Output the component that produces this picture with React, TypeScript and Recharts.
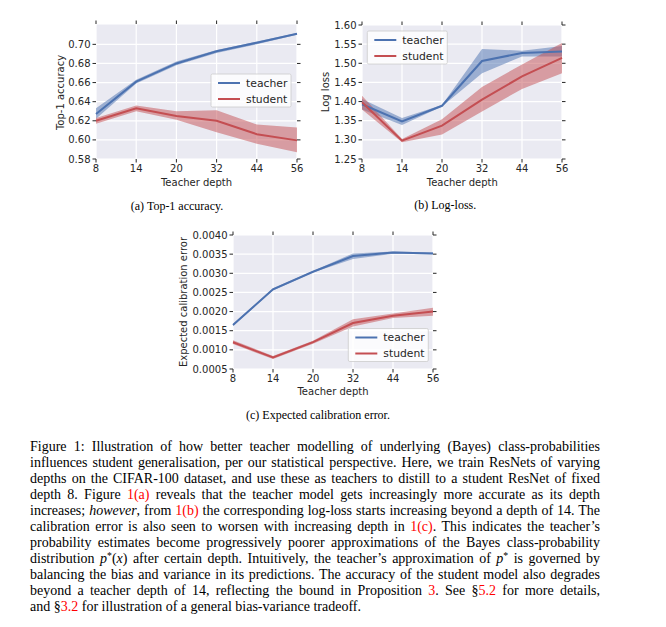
import React from 'react';
import { ComposedChart, Line, Area, XAxis, YAxis, CartesianGrid } from 'recharts';

// ---------- data ----------
const depths = ['8', '14', '20', '32', '44', '56'];

const accTeacher = [0.627, 0.661, 0.68, 0.6927, 0.7017, 0.711];
const accTeacherLo = [0.622, 0.659, 0.678, 0.691, 0.7, 0.71];
const accTeacherHi = [0.633, 0.663, 0.682, 0.694, 0.703, 0.712];
const accStudent = [0.62, 0.633, 0.625, 0.62, 0.606, 0.5995];
const accStudentLo = [0.617, 0.63, 0.621, 0.608, 0.596, 0.587];
const accStudentHi = [0.623, 0.636, 0.63, 0.631, 0.616, 0.613];

const lossTeacher = [1.393, 1.348, 1.389, 1.506, 1.527, 1.531];
const lossTeacherLo = [1.379, 1.339, 1.387, 1.474, 1.518, 1.518];
const lossTeacherHi = [1.407, 1.357, 1.391, 1.537, 1.533, 1.545];
const lossStudent = [1.398, 1.298, 1.337, 1.405, 1.466, 1.514];
const lossStudentLo = [1.379, 1.294, 1.314, 1.374, 1.433, 1.474];
const lossStudentHi = [1.415, 1.302, 1.354, 1.438, 1.497, 1.553];

const eceTeacher = [0.00165, 0.00258, 0.00304, 0.00345, 0.00354, 0.00352];
const eceTeacherLo = [0.00162, 0.00255, 0.00302, 0.00337, 0.00351, 0.0035];
const eceTeacherHi = [0.00168, 0.00261, 0.00306, 0.00352, 0.00357, 0.00354];
const eceStudent = [0.0012, 0.0008, 0.0012, 0.0017, 0.00189, 0.002];
const eceStudentLo = [0.00115, 0.00076, 0.00116, 0.00161, 0.00183, 0.00189];
const eceStudentHi = [0.00125, 0.00084, 0.00124, 0.0018, 0.00195, 0.0021];

const accTicks = [0.58, 0.6, 0.62, 0.64, 0.66, 0.68, 0.7];
const lossTicks = [1.25, 1.3, 1.35, 1.4, 1.45, 1.5, 1.55, 1.6];
const eceTicks = [0.0005, 0.001, 0.0015, 0.002, 0.0025, 0.003, 0.0035, 0.004];

const seriesNames = ['teacher', 'student'];

// ---------- style ----------
const BLUE = '#4C72B0';
const RED = '#C44E52';
const BG = '#EAEAF2';
const TXT = '#262626';
const SANS = '"DejaVu Sans", sans-serif';
const SERIF = '"Liberation Serif", serif';

function buildRows(t: number[], tLo: number[], tHi: number[], s: number[], sLo: number[], sHi: number[]) {
  return depths.map((d, i) => ({
    depth: d,
    t: t[i],
    tBand: [tLo[i], tHi[i]],
    s: s[i],
    sBand: [sLo[i], sHi[i]],
  }));
}

const accData = buildRows(accTeacher, accTeacherLo, accTeacherHi, accStudent, accStudentLo, accStudentHi);
const lossData = buildRows(lossTeacher, lossTeacherLo, lossTeacherHi, lossStudent, lossStudentLo, lossStudentHi);
const eceData = buildRows(eceTeacher, eceTeacherLo, eceTeacherHi, eceStudent, eceStudentLo, eceStudentHi);

type PanelProps = {
  data: any[];
  domain: [number, number];
  ticks: number[];
  fmt: (v: number) => string;
  width: number;
  height: number;
  top: number;
  right: number;
  yWidth: number;
};

function Panel({ data, domain, ticks, fmt, width, height, top, right, yWidth }: PanelProps) {
  const tickLine = { stroke: TXT, strokeWidth: 1 };
  return (
    <ComposedChart width={width} height={height} data={data} margin={{ top: top - 1, right: right - 1, left: 0, bottom: 0 }}>
      <CartesianGrid fill={BG} fillOpacity={1} stroke="#ffffff" strokeWidth={1.2} />
      <XAxis
        dataKey="depth"
        scale="point"
        interval={0}
        height={41}
        tickSize={3.5}
        axisLine={false}
        tickLine={tickLine}
        tick={{ fill: TXT, fontSize: 10, fontFamily: SANS }}
      />
      <XAxis
        xAxisId="top"
        orientation="top"
        dataKey="depth"
        scale="point"
        interval={0}
        height={1}
        tickSize={3.5}
        axisLine={false}
        tickLine={tickLine}
        tickFormatter={() => ''}
      />
      <YAxis
        type="number"
        domain={domain}
        ticks={ticks}
        allowDataOverflow
        interval={0}
        width={yWidth}
        tickSize={3.5}
        axisLine={false}
        tickLine={tickLine}
        tickFormatter={fmt}
        tick={{ fill: TXT, fontSize: 10, fontFamily: SANS }}
      />
      <YAxis
        yAxisId="right"
        orientation="right"
        type="number"
        domain={domain}
        ticks={ticks}
        allowDataOverflow
        interval={0}
        width={1}
        tickSize={3.5}
        axisLine={false}
        tickLine={tickLine}
        tickFormatter={() => ''}
      />
      <Area dataKey="tBand" type="linear" stroke="none" fill={BLUE} fillOpacity={0.5} isAnimationActive={false} activeDot={false} />
      <Line dataKey="t" type="linear" stroke={BLUE} strokeWidth={2} dot={false} activeDot={false} isAnimationActive={false} />
      <Area dataKey="sBand" type="linear" stroke="none" fill={RED} fillOpacity={0.5} isAnimationActive={false} activeDot={false} />
      <Line dataKey="s" type="linear" stroke={RED} strokeWidth={2} dot={false} activeDot={false} isAnimationActive={false} />
    </ComposedChart>
  );
}

function LegendBox({ x, y }: { x: number; y: number }) {
  const colors = [BLUE, RED];
  return (
    <g>
      <rect x={x} y={y} width={80} height={33} fill="#ffffff" fillOpacity={0.8} stroke="#cccccc" strokeWidth={0.8} rx={1.5} />
      {seriesNames.map((n, i) => (
        <g key={n}>
          <line x1={x + 7} x2={x + 29} y1={y + 9 + i * 16} y2={y + 9 + i * 16} stroke={colors[i]} strokeWidth={2} />
          <text x={x + 35} y={y + 9 + i * 16} dominantBaseline="central" fontFamily={SANS} fontSize={10.8} fill={TXT}>
            {n}
          </text>
        </g>
      ))}
    </g>
  );
}

const Red = ({ children }: { children: React.ReactNode }) => <span style={{ color: '#ff0000' }}>{children}</span>;
const Star = () => <span style={{ fontSize: '0.7em', verticalAlign: '0.45em', lineHeight: 0 }}>*</span>;

const paragraph: React.ReactNode[] = [
  <>Figure 1: Illustration of how better teacher modelling of underlying (Bayes) class-probabilities</>,
  <>influences student generalisation, per our statistical perspective. Here, we train ResNets of varying</>,
  <>depths on the CIFAR-100 dataset, and use these as teachers to distill to a student ResNet of fixed</>,
  <>depth 8. Figure <Red>1(a)</Red> reveals that the teacher model gets increasingly more accurate as its depth</>,
  <>increases; <i>however</i>, from <Red>1(b)</Red> the corresponding log-loss starts increasing beyond a depth of 14. The</>,
  <>calibration error is also seen to worsen with increasing depth in <Red>1(c)</Red>. This indicates the teacher’s</>,
  <>probability estimates become progressively poorer approximations of the Bayes class-probability</>,
  <>distribution <i>p</i><Star />(<i>x</i>) after certain depth. Intuitively, the teacher’s approximation of <i>p</i><Star /> is governed by</>,
  <>balancing the bias and variance in its predictions. The accuracy of the student model also degrades</>,
  <>beyond a teacher depth of 14, reflecting the bound in Proposition <Red>3</Red>. See §<Red>5.2</Red> for more details,</>,
  <>and §<Red>3.2</Red> for illustration of a general bias-variance tradeoff.</>,
];

export default function App() {
  return (
    <div style={{ position: 'absolute', left: 0, top: 0, width: 666, height: 627, background: '#ffffff', overflow: 'hidden' }}>
      <div style={{ position: 'absolute', left: 0, top: 0 }}>
        <Panel data={accData} domain={[0.58, 0.7213]} ticks={accTicks} fmt={(v) => v.toFixed(2)} width={320} height={200} top={24} right={23} yWidth={96} />
      </div>
      <div style={{ position: 'absolute', left: 300, top: 0 }}>
        <Panel data={lossData} domain={[1.25, 1.6]} ticks={lossTicks} fmt={(v) => v.toFixed(2)} width={300} height={200} top={25} right={38} yWidth={62} />
      </div>
      <div style={{ position: 'absolute', left: 150, top: 210 }}>
        <Panel data={eceData} domain={[0.0005, 0.004]} ticks={eceTicks} fmt={(v) => v.toFixed(4)} width={300} height={200} top={25} right={17} yWidth={83} />
      </div>

      <svg width={666} height={627} style={{ position: 'absolute', left: 0, top: 0, pointerEvents: 'none' }}>
        {/* axis titles */}
        <text transform="translate(60,92.5) rotate(-90)" textAnchor="middle" dominantBaseline="central" fontFamily={SANS} fontSize={10} fill={TXT}>Top-1 accuracy</text>
        <text transform="translate(325,92) rotate(-90)" textAnchor="middle" dominantBaseline="central" fontFamily={SANS} fontSize={10} fill={TXT}>Log loss</text>
        <text transform="translate(183.5,302) rotate(-90)" textAnchor="middle" dominantBaseline="central" fontFamily={SANS} fontSize={10} fill={TXT}>Expected calibration error</text>
        <text x={196.5} y={182.3} textAnchor="middle" dominantBaseline="central" fontFamily={SANS} fontSize={10} fill={TXT}>Teacher depth</text>
        <text x={462.3} y={182.3} textAnchor="middle" dominantBaseline="central" fontFamily={SANS} fontSize={10} fill={TXT}>Teacher depth</text>
        <text x={333} y={391.7} textAnchor="middle" dominantBaseline="central" fontFamily={SANS} fontSize={10} fill={TXT}>Teacher depth</text>

        {/* legends */}
        <LegendBox x={211} y={74} />
        <LegendBox x={367.3} y={31} />
        <LegendBox x={348.3} y={328.5} />

        {/* sub-captions */}
        <text x={177} y={205.7} textAnchor="middle" dominantBaseline="central" fontFamily={SERIF} fontSize={12} fill="#000">(a) Top-1 accuracy.</text>
        <text x={445.3} y={205} textAnchor="middle" dominantBaseline="central" fontFamily={SERIF} fontSize={12} fill="#000">(b) Log-loss.</text>
        <text x={318} y={415} textAnchor="middle" dominantBaseline="central" fontFamily={SERIF} fontSize={12} fill="#000">(c) Expected calibration error.</text>
      </svg>

      {paragraph.map((ln, i) => (
        <div
          key={i}
          style={{
            position: 'absolute',
            left: 30,
            top: 439 + 16 * i,
            width: 570,
            height: 16,
            lineHeight: '16px',
            fontFamily: SERIF,
            fontSize: 14,
            color: '#000',
            textAlign: 'justify',
            textAlignLast: i === paragraph.length - 1 ? 'left' : 'justify',
          }}
        >
          {ln}
        </div>
      ))}
    </div>
  );
}
